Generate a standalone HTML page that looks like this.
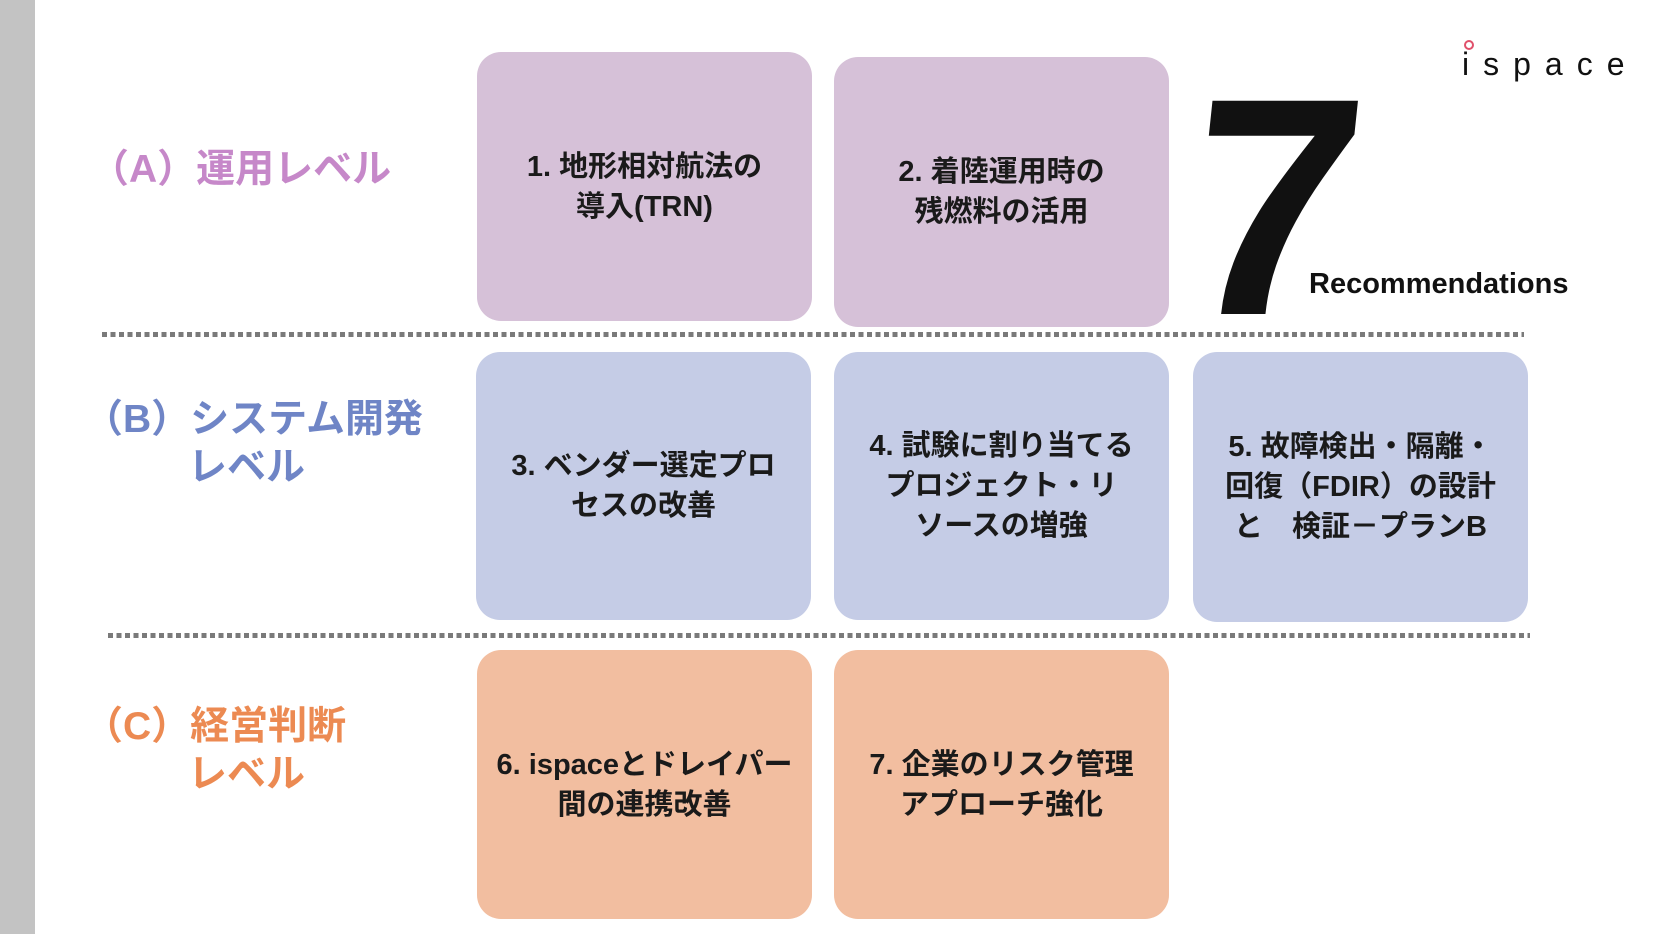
<!DOCTYPE html>
<html><head><meta charset="utf-8"><style>
body{margin:0;width:1660px;height:934px;background:#fff;position:relative;overflow:hidden;font-family:"Liberation Sans","Noto Sans CJK JP",sans-serif;}
.bar{position:absolute;left:0;top:0;width:35px;height:934px;background:#c3c3c3;}
.box{position:absolute;border-radius:24px;display:flex;align-items:center;justify-content:center;text-align:center;font-weight:bold;font-size:29px;line-height:40px;color:#1a1a1a;}
.a{background:#d6c1d8;}.b{background:#c5cce6;}.c{background:#f2bea0;}
.dot{position:absolute;height:5px;background:repeating-linear-gradient(90deg,#7a7a7a 0 5px,transparent 5px 8.5px);}
.lab{position:absolute;font-size:39px;line-height:48px;font-weight:bold;}
</style></head><body>
<div class="bar"></div>
<div class="lab" style="left:90px;top:146px;color:#c688c9">（A）運用レベル</div>
<div class="lab" style="left:84px;top:396px;color:#6f85c6">（B）システム開発<br><span style="padding-left:104px">レベル</span></div>
<div class="lab" style="left:84px;top:703px;color:#ec8a52">（C）経営判断<br><span style="padding-left:104px">レベル</span></div>

<div class="box a" style="left:477px;top:52px;width:335px;height:269px">1. 地形相対航法の<br>導入(TRN)</div>
<div class="box a" style="left:834px;top:57px;width:335px;height:270px">2. 着陸運用時の<br>残燃料の活用</div>

<div class="dot" style="left:102px;top:332px;width:1422px"></div>

<div class="box b" style="left:476px;top:352px;width:335px;height:268px">3. ベンダー選定プロ<br>セスの改善</div>
<div class="box b" style="left:834px;top:352px;width:335px;height:268px">4. 試験に割り当てる<br>プロジェクト・リ<br>ソースの増強</div>
<div class="box b" style="left:1193px;top:352px;width:335px;height:270px">5. 故障検出・隔離・<br>回復（FDIR）の設計<br>と　検証－プランB</div>

<div class="dot" style="left:108px;top:633px;width:1422px"></div>

<div class="box c" style="left:477px;top:650px;width:335px;height:269px">6. ispaceとドレイパー<br>間の連携改善</div>
<div class="box c" style="left:834px;top:650px;width:335px;height:269px">7. 企業のリスク管理<br>アプローチ強化</div>

<div style="position:absolute;left:1188px;top:52px;font-size:310px;line-height:310px;font-weight:bold;color:#111;transform:skewX(-6deg)">7</div>
<div style="position:absolute;left:1309px;top:268px;font-size:29px;font-weight:bold;color:#111">Recommendations</div>
<div style="position:absolute;left:1462px;top:46px;font-size:32px;letter-spacing:14px;color:#111">ispace</div>
<div style="position:absolute;left:1464px;top:40px;width:6px;height:6px;border:2px solid #e0506a;border-radius:50%;background:#fff"></div>
</body></html>
